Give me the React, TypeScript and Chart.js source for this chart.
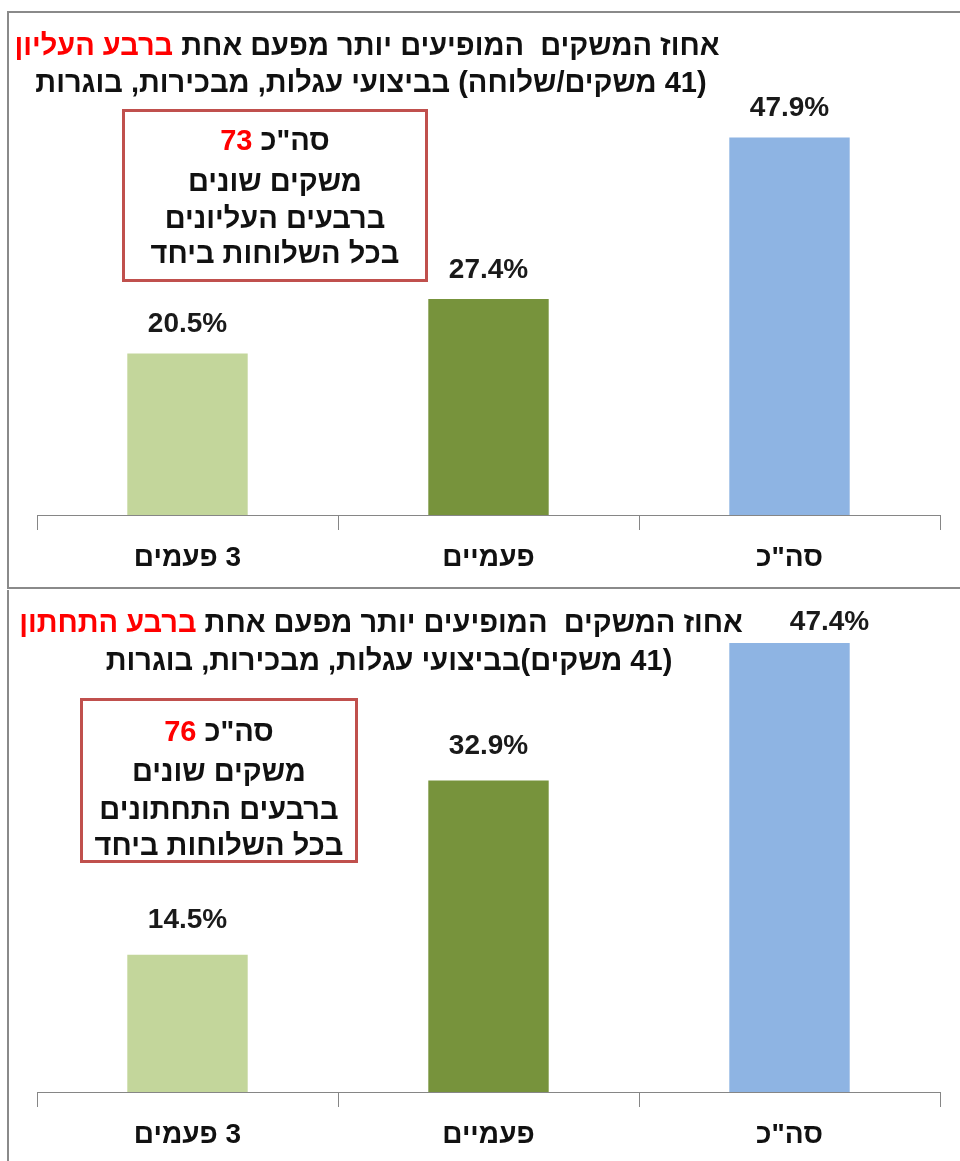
import React, { useEffect, useRef } from "react";
import { Chart, registerables } from "chart.js";

Chart.register(...registerables);

const categories = ["\u202B3 פעמים\u202C", "פעמיים", 'סה"כ'];
const topValues = [20.5, 27.4, 47.9];
const bottomValues = [14.5, 32.9, 47.4];
const barColors = ["#c3d69b", "#77933c", "#8eb4e3"];
const topMax = 60;
const bottomMax = 50;

const topTitleBlack = "אחוז המשקים  המופיעים יותר מפעם אחת ";
const topTitleRed = "ברבע העליון";
const topTitleLine2 = "(41 משקים/שלוחה) בביצועי עגלות, מבכירות, בוגרות";
const bottomTitleBlack = "אחוז המשקים  המופיעים יותר מפעם אחת ";
const bottomTitleRed = "ברבע התחתון";
const bottomTitleLine2 = "(41 משקים)בביצועי עגלות, מבכירות, בוגרות";

const topBoxCount = "73";
const topBoxLines = ["משקים שונים", "ברבעים העליונים", "בכל השלוחות ביחד"];
const bottomBoxCount = "76";
const bottomBoxLines = ["משקים שונים", "ברבעים התחתונים", "בכל השלוחות ביחד"];

const HEB = "'Liberation Sans', Arial, sans-serif";

type PanelProps = {
  values: number[];
  max: number;
  top: number;
  height: number;
  padTop: number;
  axisHeight: number;
  labelOffset: number;
  labelShiftX: number[];
};

function BarPanel({ values, max, top, height, padTop, axisHeight, labelOffset, labelShiftX }: PanelProps) {
  const ref = useRef<HTMLCanvasElement | null>(null);
  useEffect(() => {
    if (!ref.current) return;
    const labelPlugin = {
      id: "valueLabels",
      afterDatasetsDraw(chart: any) {
        const ctx = chart.ctx;
        const meta = chart.getDatasetMeta(0);
        ctx.save();
        ctx.font = `bold 28px ${HEB}`;
        ctx.fillStyle = "#1a1a1a";
        ctx.textAlign = "center";
        ctx.textBaseline = "middle";
        meta.data.forEach((bar: any, i: number) => {
          const v = chart.data.datasets[0].data[i] as number;
          const y = Math.max(bar.y - labelOffset, chart.chartArea.top + 4);
          ctx.fillText(v.toFixed(1) + "%", bar.x + (labelShiftX[i] || 0), y);
        });
        ctx.restore();
      },
    };
    const chart = new Chart(ref.current, {
      type: "bar",
      data: {
        labels: categories,
        datasets: [
          {
            data: values,
            backgroundColor: barColors,
            borderWidth: 0,
            barPercentage: 0.4,
            categoryPercentage: 1,
          },
        ],
      },
      options: {
        responsive: false,
        animation: false,
        layout: { padding: { left: 37, right: 20, top: padTop, bottom: 0 } },
        plugins: { legend: { display: false }, tooltip: { enabled: false }, title: { display: false } },
        scales: {
          x: {
            afterFit: (scale: any) => {
              scale.height = axisHeight;
            },
            grid: {
              display: true,
              drawOnChartArea: false,
              drawTicks: true,
              tickLength: 15,
              color: "#868686",
              offset: true,
            },
            border: { display: true, color: "#868686", width: 1 },
            ticks: {
              color: "#111",
              padding: 11,
              font: { family: HEB, size: 28, weight: "bold" },
            },
          },
          y: { display: false, min: 0, max },
        },
      },
      plugins: [labelPlugin],
    });
    return () => chart.destroy();
  }, []);
  return (
    <canvas
      ref={ref}
      width={960}
      height={height}
      style={{ position: "absolute", left: 0, top, width: 960, height }}
    />
  );
}

function TitleLine({ cx, cy, children }: { cx: number; cy: number; children: React.ReactNode }) {
  return (
    <div
      dir="rtl"
      style={{
        position: "absolute",
        left: cx - 450,
        width: 900,
        top: cy - 18,
        height: 36,
        lineHeight: "36px",
        textAlign: "center",
        fontFamily: HEB,
        fontWeight: "bold",
        fontSize: 29,
        color: "#111",
        whiteSpace: "pre",
      }}
    >
      {children}
    </div>
  );
}

function NoteBox({
  left,
  top,
  width,
  height,
  count,
  lines,
  lineYs,
}: {
  left: number;
  top: number;
  width: number;
  height: number;
  count: string;
  lines: string[];
  lineYs: number[];
}) {
  const row = (y: number) => ({
    position: "absolute" as const,
    left: -20,
    right: -20,
    top: y - 18,
    lineHeight: "36px",
  });
  return (
    <div
      dir="rtl"
      style={{
        position: "absolute",
        left,
        top,
        width,
        height,
        boxSizing: "border-box",
        border: "3px solid #c0504d",
        background: "#fff",
        fontFamily: HEB,
        fontWeight: "bold",
        fontSize: 29,
        color: "#111",
        textAlign: "center",
        whiteSpace: "nowrap",
      }}
    >
      <div style={row(lineYs[0])}>
        סה"כ <span style={{ color: "#ff0000" }}>{count}</span>
      </div>
      {lines.map((l, i) => (
        <div key={i} style={row(lineYs[i + 1])}>
          {l}
        </div>
      ))}
    </div>
  );
}

export default function App() {
  return (
    <div style={{ position: "absolute", left: 0, top: 0, width: 960, height: 1161, overflow: "hidden", background: "#fff" }}>
      <div
        style={{
          position: "absolute",
          left: 7,
          top: 11,
          width: 1000,
          height: 578,
          boxSizing: "border-box",
          border: "2px solid #8a8a8a",
        }}
      />
      <div
        style={{
          position: "absolute",
          left: 7,
          top: 590,
          width: 1000,
          height: 600,
          boxSizing: "border-box",
          borderLeft: "2px solid #8a8a8a",
        }}
      />
      <BarPanel values={topValues} max={topMax} top={0} height={587} padTop={42} axisHeight={72} labelOffset={29} labelShiftX={[0, 0, 0]} />
      <BarPanel values={bottomValues} max={bottomMax} top={589} height={572} padTop={29.5} axisHeight={69} labelOffset={34} labelShiftX={[0, 0, 40]} />

      <TitleLine cx={367} cy={45}>
        {topTitleBlack}
        <span style={{ color: "#ff0000" }}>{topTitleRed}</span>
      </TitleLine>
      <TitleLine cx={371} cy={82}>{topTitleLine2}</TitleLine>
      <TitleLine cx={381} cy={622}>
        {bottomTitleBlack}
        <span style={{ color: "#ff0000" }}>{bottomTitleRed}</span>
      </TitleLine>
      <TitleLine cx={389} cy={660}>{bottomTitleLine2}</TitleLine>

      <NoteBox left={122} top={109} width={306} height={173} count={topBoxCount} lines={topBoxLines} lineYs={[28, 69, 106, 141]} />
      <NoteBox left={80} top={698} width={278} height={165} count={bottomBoxCount} lines={bottomBoxLines} lineYs={[30, 70, 108, 144]} />
    </div>
  );
}
